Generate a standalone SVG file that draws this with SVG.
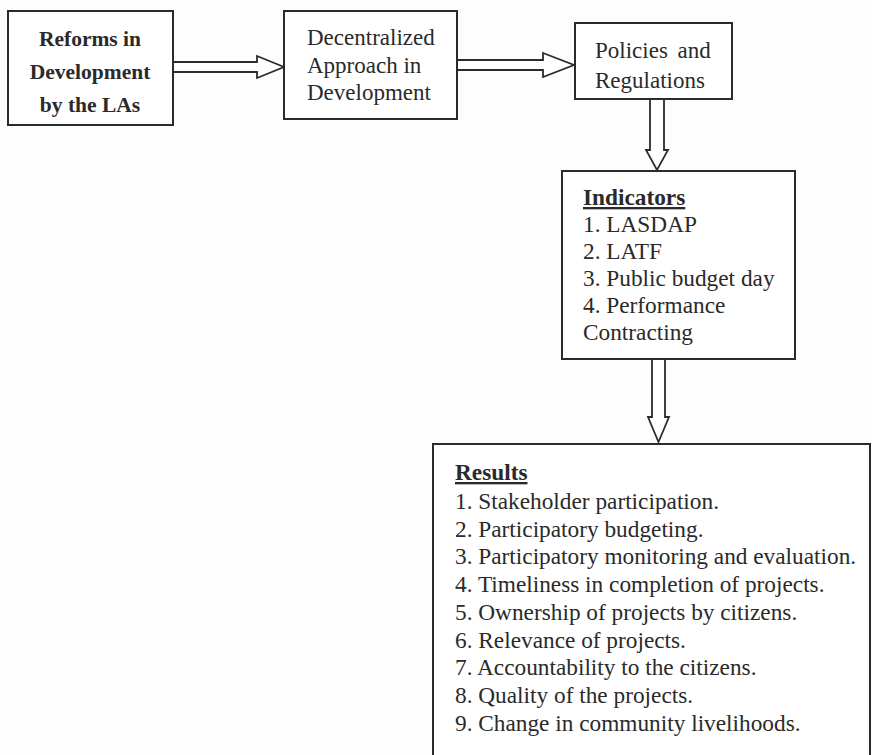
<svg xmlns="http://www.w3.org/2000/svg" width="872" height="755" viewBox="0 0 872 755">
<style>
.box{fill:#fff;stroke:#2b2b2b;stroke-width:2}
.arr{fill:#fff;stroke:#2b2b2b;stroke-width:1.8;stroke-linejoin:miter}
text{font-family:"Liberation Serif","DejaVu Serif",serif;fill:#2a2a2a}
.b{font-weight:bold;font-size:21.5px}
.n{font-size:23px}
.l{font-size:23.3px}
.h{font-weight:bold;text-decoration:underline}
</style>
<rect width="872" height="755" fill="#fdfdfd"/>
<g id="connectors">
<path class="arr" d="M174,62 L257,62 L257,56 L284,67 L257,78 L257,72 L174,72"/>
<path class="arr" d="M458,60 L543,60 L543,53 L574,65 L543,77 L543,70 L458,70"/>
<path class="arr" d="M650,100 L650,150 L646,150 L657,170 L668,150 L664,150 L664,100"/>
<path class="arr" d="M652,360 L652,417 L648,417 L658.5,442 L669,417 L665,417 L665,360"/>
</g>
<g id="reforms">
<rect class="box" x="8" y="11" width="165" height="114"/>
<text class="b" x="90" y="46" text-anchor="middle">Reforms in</text>
<text class="b" x="90" y="79" text-anchor="middle">Development</text>
<text class="b" x="90" y="112" text-anchor="middle">by the LAs</text>
</g>
<g id="decentralized">
<rect class="box" x="284" y="11" width="173" height="108"/>
<text class="n" x="307" y="45">Decentralized</text>
<text class="n" x="307" y="72.5">Approach in</text>
<text class="n" x="307" y="100">Development</text>
</g>
<g id="policies">
<rect class="box" x="575" y="23" width="157" height="76"/>
<text class="n" x="595" y="58" word-spacing="4">Policies and</text>
<text class="n" x="595" y="88">Regulations</text>
</g>
<g id="indicators">
<rect class="box" x="562" y="171" width="233" height="188"/>
<text class="l h" x="583" y="205">Indicators</text>
<text class="l" x="583" y="232">1. LASDAP</text>
<text class="l" x="583" y="259">2. LATF</text>
<text class="l" x="583" y="286">3. Public budget day</text>
<text class="l" x="583" y="313">4. Performance</text>
<text class="l" x="583" y="340">Contracting</text>
</g>
<g id="results">
<rect class="box" x="433" y="444" width="437" height="330"/>
<text class="l h" x="455" y="480">Results</text>
<text class="l" x="455" y="509">1. Stakeholder participation.</text>
<text class="l" x="455" y="537">2. Participatory budgeting.</text>
<text class="l" x="455" y="564">3. Participatory monitoring and evaluation.</text>
<text class="l" x="455" y="592">4. Timeliness in completion of projects.</text>
<text class="l" x="455" y="620">5. Ownership of projects by citizens.</text>
<text class="l" x="455" y="648">6. Relevance of projects.</text>
<text class="l" x="455" y="675">7. Accountability to the citizens.</text>
<text class="l" x="455" y="703">8. Quality of the projects.</text>
<text class="l" x="455" y="731">9. Change in community livelihoods.</text>
</g>
</svg>
